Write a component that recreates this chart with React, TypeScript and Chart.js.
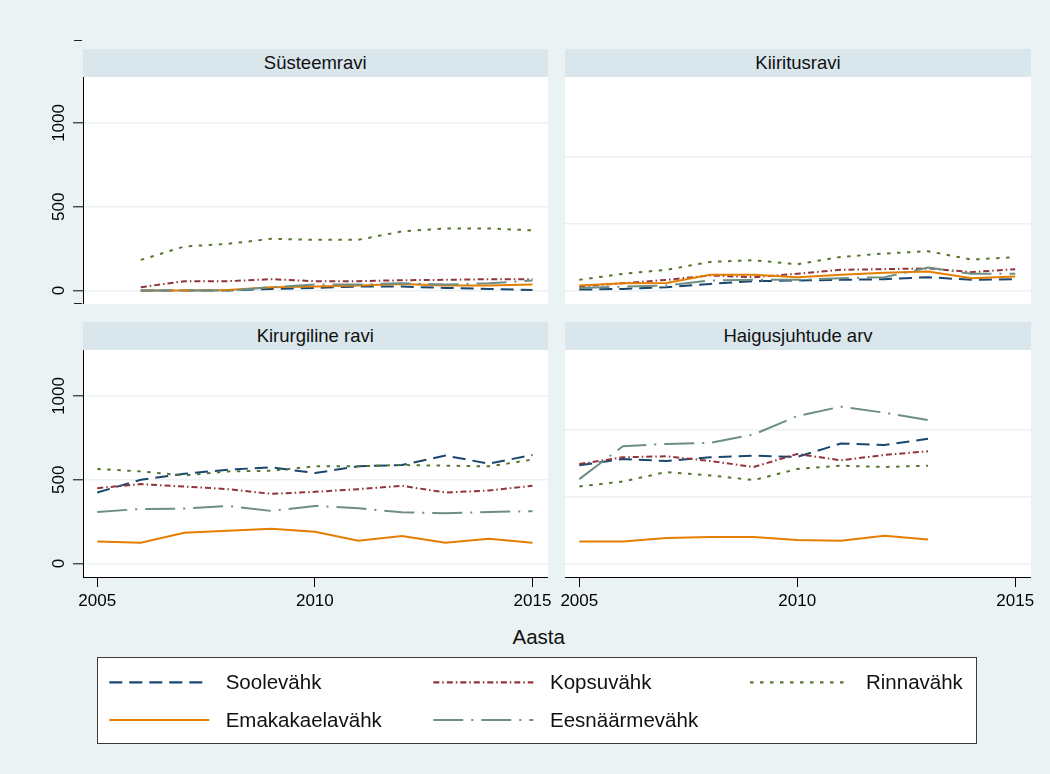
import React, { useEffect, useRef } from "react";
import { Chart, registerables } from "chart.js";

Chart.register(...registerables);

// ---------------- data ----------------
const years = [2005, 2006, 2007, 2008, 2009, 2010, 2011, 2012, 2013, 2014, 2015];
const xTicks = [2005, 2010, 2015];
const yTicksLeft = [0, 500, 1000];
const yGridRight = [0, 400, 800];

const seriesNames = ["Soolevähk", "Kopsuvähk", "Rinnavähk", "Emakakaelavähk", "Eesnäärmevähk"];
const seriesColors = ["#1a476f", "#90353b", "#55752f", "#e37e00", "#6e8e84"];
const seriesDashes: number[][] = [[13, 7], [6, 3, 1.5, 3], [3.5, 6.5], [], [30, 8, 2, 8]];

const panelTitles = ["Süsteemravi", "Kiiritusravi", "Kirurgiline ravi", "Haigusjuhtude arv"];

// Süsteemravi
const sysSoole = [null, 0, 0, 0, 10, 16, 24, 24, 16, 10, 4];
const sysKopsu = [null, 20, 56, 56, 68, 56, 56, 62, 64, 68, 68];
const sysRinna = [null, 183, 263, 279, 309, 303, 303, 353, 371, 371, 359];
const sysEmakakaela = [null, 0, 0, 4, 20, 24, 30, 40, 30, 30, 36];
const sysEesnaarme = [null, 0, 0, 0, 20, 36, 36, 44, 36, 44, 60];

// Kiiritusravi
const kiiSoole = [6, 10, 20, 40, 56, 60, 64, 68, 80, 64, 68];
const kiiKopsu = [24, 44, 64, 90, 80, 100, 124, 128, 132, 110, 128];
const kiiRinna = [64, 100, 124, 171, 181, 157, 201, 221, 235, 185, 199];
const kiiEmakakaela = [30, 44, 46, 94, 94, 80, 94, 106, 114, 74, 84];
const kiiEesnaarme = [16, 24, 30, 60, 64, 64, 74, 80, 137, 100, 100];

// Kirurgiline ravi
const kirSoole = [424, 500, 536, 560, 574, 540, 580, 588, 644, 596, 648];
const kirKopsu = [450, 474, 460, 444, 416, 428, 444, 464, 424, 436, 464];
const kirRinna = [564, 550, 526, 550, 554, 580, 580, 588, 584, 580, 620];
const kirEmakakaela = [132, 124, 184, 196, 208, 190, 136, 164, 124, 148, 124];
const kirEesnaarme = [308, 326, 328, 344, 314, 344, 330, 306, 300, 308, 312];

// Haigusjuhtude arv
const haiSoole = [586, 624, 612, 634, 644, 636, 716, 708, 744, null, null];
const haiKopsu = [594, 634, 640, 612, 576, 654, 616, 648, 670, null, null];
const haiRinna = [460, 490, 546, 526, 498, 564, 584, 576, 584, null, null];
const haiEmakakaela = [132, 132, 152, 158, 158, 140, 136, 166, 144, null, null];
const haiEesnaarme = [504, 700, 714, 720, 770, 880, 936, 900, 856, null, null];

const panelValues = [
  [sysSoole, sysKopsu, sysRinna, sysEmakakaela, sysEesnaarme],
  [kiiSoole, kiiKopsu, kiiRinna, kiiEmakakaela, kiiEesnaarme],
  [kirSoole, kirKopsu, kirRinna, kirEmakakaela, kirEesnaarme],
  [haiSoole, haiKopsu, haiRinna, haiEmakakaela, haiEesnaarme],
];

const xAxisTitle = "Aasta";

// ---------------- styling ----------------
const FONT = '"Liberation Sans", Arial, Helvetica, sans-serif';
const BG = "#EAF2F3";
const STRIP = "#D9E6EB";
const GRID = "#EAF2F3";
const X_MIN = 2004.672;
const X_MAX = 2015.35;
const Y_MIN = -80;
const Y_MAX = 1274;

type PanelGeom = {
  left: number; top: number; width: number; height: number;
  yWidth: number; padRight: number; isLeft: boolean; isBottom: boolean; xHeight: number;
};

const geoms: PanelGeom[] = [
  { left: 40, top: 77, width: 520, height: 227, yWidth: 43, padRight: 12.3, isLeft: true, isBottom: false, xHeight: 0 },
  { left: 550, top: 77, width: 495, height: 227, yWidth: 15, padRight: 14.5, isLeft: false, isBottom: false, xHeight: 0 },
  { left: 40, top: 350, width: 520, height: 266, yWidth: 43, padRight: 12.3, isLeft: true, isBottom: true, xHeight: 39 },
  { left: 550, top: 350, width: 495, height: 266, yWidth: 15, padRight: 14.5, isLeft: false, isBottom: true, xHeight: 39 },
];

const yLabelPlugin = {
  id: "yRotLabels",
  afterDraw(chart: any) {
    const s = chart.scales.y;
    const ctx = chart.ctx;
    ctx.save();
    ctx.fillStyle = "#000";
    ctx.font = `17px ${FONT}`;
    ctx.textAlign = "center";
    ctx.textBaseline = "middle";
    for (const t of s.ticks) {
      const y = s.getPixelForValue(t.value);
      ctx.save();
      ctx.translate(chart.chartArea.left - 23.5, y);
      ctx.rotate(-Math.PI / 2);
      ctx.fillText(String(t.value), 0, 0);
      ctx.restore();
    }
    ctx.restore();
  },
};

function Panel({ idx }: { idx: number }) {
  const ref = useRef<HTMLCanvasElement>(null);
  const g = geoms[idx];
  useEffect(() => {
    const vals = panelValues[idx];
    const datasets = seriesNames.map((name, i) => ({
      label: name,
      data: years.map((yr, j) => ({ x: yr, y: vals[i][j] })),
      borderColor: seriesColors[i],
      borderDash: seriesDashes[i],
      borderWidth: 2,
      pointRadius: 0,
      pointHoverRadius: 0,
      fill: false,
      tension: 0,
      spanGaps: false,
      order: seriesNames.length - i,
    }));
    const chart = new Chart(ref.current as HTMLCanvasElement, {
      type: "line",
      data: { datasets: datasets as any },
      plugins: g.isLeft ? [yLabelPlugin] : [],
      options: {
        animation: false,
        responsive: true,
        maintainAspectRatio: false,
        layout: { padding: { left: 0, top: 0, bottom: 0, right: g.padRight } },
        plugins: { legend: { display: false }, tooltip: { enabled: false } },
        scales: {
          x: {
            type: "linear",
            min: X_MIN,
            max: X_MAX,
            display: g.isBottom,
            afterBuildTicks: (s: any) => {
              s.ticks = xTicks.map((v) => ({ value: v }));
            },
            afterFit: (s: any) => {
              if (g.isBottom) s.height = g.xHeight;
              s.paddingLeft = 0;
              s.paddingRight = 0;
            },
            grid: {
              drawOnChartArea: false,
              drawTicks: true,
              tickLength: 10,
              tickColor: "#000",
              tickWidth: 1,
              color: "#000",
            },
            border: { display: true, color: "#000", width: 1 },
            ticks: {
              autoSkip: false,
              maxRotation: 0,
              minRotation: 0,
              padding: 4,
              color: "#000",
              font: { family: FONT, size: 17 },
              callback: (v: any) => String(v),
            },
          },
          y: {
            type: "linear",
            min: Y_MIN,
            max: Y_MAX,
            afterBuildTicks: (s: any) => {
              s.ticks = (g.isLeft ? yTicksLeft : yGridRight).map((v) => ({ value: v }));
            },
            afterFit: (s: any) => {
              s.width = g.yWidth;
              s.paddingTop = 0;
              s.paddingBottom = 0;
              s.paddingLeft = 0;
              s.paddingRight = 0;
            },
            grid: {
              color: GRID,
              lineWidth: 1.6,
              drawTicks: g.isLeft,
              tickLength: 10,
              tickColor: "#000",
              tickWidth: 1,
            },
            border: { display: g.isLeft, color: "#000", width: 1 },
            ticks: { display: false },
          },
        },
      } as any,
    });
    return () => chart.destroy();
  }, []);
  return (
    <div style={{ position: "absolute", left: g.left, top: g.top, width: g.width, height: g.height }}>
      <canvas ref={ref} />
    </div>
  );
}

const stripStyle = (left: number, top: number, width: number): React.CSSProperties => ({
  position: "absolute",
  left,
  top,
  width,
  height: 27.5,
  background: STRIP,
  fontSize: 18.5,
  lineHeight: "27.5px",
  textAlign: "center",
  color: "#111",
});

const plotBox = (left: number, top: number, width: number, height: number): React.CSSProperties => ({
  position: "absolute",
  left,
  top,
  width,
  height,
  background: "#fff",
});

const legendRows = [
  { y: 682.3, items: [0, 1, 2] },
  { y: 720, items: [3, 4] },
];
const legendCols = [
  { x1: 109.3, x2: 209.3, tx: 225.7 },
  { x1: 433.3, x2: 533.3, tx: 550 },
  { x1: 750, x2: 850, tx: 866 },
];

export default function App() {
  return (
    <div
      style={{
        position: "absolute",
        left: 0,
        top: 0,
        width: 1050,
        height: 774,
        background: BG,
        overflow: "hidden",
        fontFamily: FONT,
      }}
    >
      {/* plot backgrounds */}
      <div style={plotBox(82.7, 76.8, 465, 227.5)} />
      <div style={plotBox(565, 76.8, 466, 227.5)} />
      <div style={plotBox(82.7, 349.5, 465, 227.5)} />
      <div style={plotBox(565, 349.5, 466, 227.5)} />

      {/* strips */}
      <div style={stripStyle(82.5, 49.3, 465.5)}>{panelTitles[0]}</div>
      <div style={stripStyle(565, 49.3, 466)}>{panelTitles[1]}</div>
      <div style={stripStyle(82.5, 322, 465.5)}>{panelTitles[2]}</div>
      <div style={stripStyle(565, 322, 466)}>{panelTitles[3]}</div>

      {/* stray tick marks */}
      <div style={{ position: "absolute", left: 74.3, top: 39.5, width: 8, height: 1.2, background: "#222" }} />
      <div style={{ position: "absolute", left: 74.3, top: 303.2, width: 8, height: 1.2, background: "#222" }} />

      <Panel idx={0} />
      <Panel idx={1} />
      <Panel idx={2} />
      <Panel idx={3} />

      {/* x axis title */}
      <div
        style={{
          position: "absolute",
          left: 438.7,
          width: 200,
          top: 624,
          textAlign: "center",
          fontSize: 20.5,
          lineHeight: "25px",
          color: "#111",
        }}
      >
        {xAxisTitle}
      </div>

      {/* legend */}
      <div
        style={{
          position: "absolute",
          left: 97,
          top: 657,
          width: 880,
          height: 87,
          background: "#fff",
          border: "1.5px solid #3a3a3a",
          boxSizing: "border-box",
        }}
      />
      <svg style={{ position: "absolute", left: 0, top: 0 }} width={1050} height={774}>
        {legendRows.map((r) =>
          r.items.map((si, k) => (
            <line
              key={si}
              x1={legendCols[k].x1}
              x2={legendCols[k].x2}
              y1={r.y}
              y2={r.y}
              stroke={seriesColors[si]}
              strokeWidth={2.2}
              strokeDasharray={seriesDashes[si].length ? seriesDashes[si].join(" ") : undefined}
            />
          ))
        )}
      </svg>
      {legendRows.map((r) =>
        r.items.map((si, k) => (
          <div
            key={"t" + si}
            style={{
              position: "absolute",
              left: legendCols[k].tx,
              top: r.y - 13,
              height: 26,
              lineHeight: "26px",
              fontSize: 20.5,
              color: "#111",
              whiteSpace: "nowrap",
            }}
          >
            {seriesNames[si]}
          </div>
        ))
      )}
    </div>
  );
}
